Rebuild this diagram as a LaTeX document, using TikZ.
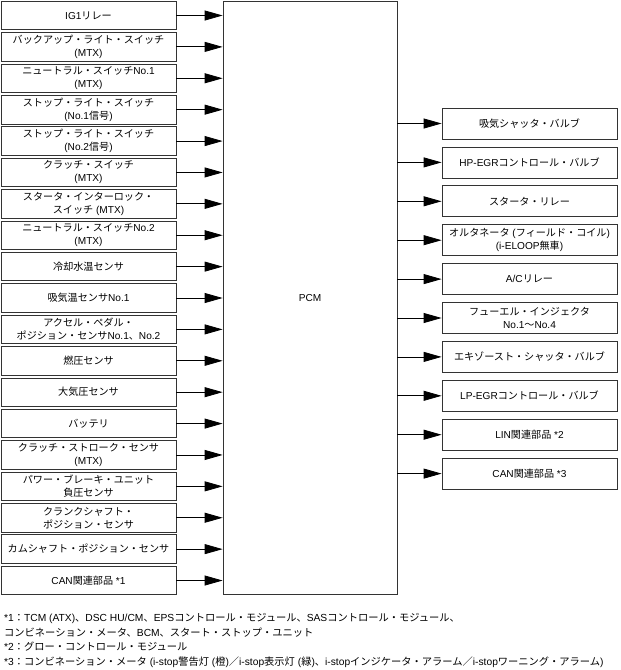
\documentclass[tikz,border=0pt]{standalone}
\usepackage{fontspec}
\setmainfont{Liberation Sans}
\newfontfamily\jpfont{Noto Sans CJK JP}
\usetikzlibrary{arrows.meta}
% 和文は自動で和文フォントへ切替
\XeTeXinterchartokenstate=1
\newXeTeXintercharclass\jpcls
\newcount\jpc
\def\setjprange#1#2{\jpc=#1 \loop\XeTeXcharclass\jpc=\jpcls \ifnum\jpc<#2 \advance\jpc by 1 \repeat}
\setjprange{"3000}{"30FF}
\setjprange{"4E00}{"9FFF}
\setjprange{"FF00}{"FFEF}
\XeTeXinterchartoks 0 \jpcls = {\begingroup\jpfont}
\XeTeXinterchartoks 4095 \jpcls = {\begingroup\jpfont}
\XeTeXinterchartoks \jpcls 0 = {\endgroup}
\XeTeXinterchartoks \jpcls 4095 = {\endgroup}

\begin{document}
\begin{tikzpicture}[x=1pt, y=-1pt, >={Triangle[length=18pt,width=10pt]},
  box/.style={draw=black!80, line width=0.8pt, minimum width=175pt, inner xsep=1pt, inner ysep=0pt,
    align=center, font=\fontsize{10.1}{13}\selectfont},
  conn/.style={->, line width=0.8pt}]
\useasboundingbox (0,0) rectangle (621,670);
% 入力側
\foreach \t [count=\i] in {{IG1リレー},
  {バックアップ・ライト・スイッチ\\(MTX)},
  {ニュートラル・スイッチNo.1\\(MTX)},
  {ストップ・ライト・スイッチ\\(No.1信号)},
  {ストップ・ライト・スイッチ\\(No.2信号)},
  {クラッチ・スイッチ\\(MTX)},
  {スタータ・インターロック・\\スイッチ (MTX)},
  {ニュートラル・スイッチNo.2\\(MTX)},
  {冷却水温センサ},
  {吸気温センサNo.1},
  {アクセル・ペダル・\\ポジション・センサNo.1、No.2},
  {燃圧センサ},
  {大気圧センサ},
  {バッテリ},
  {クラッチ・ストローク・センサ\\(MTX)},
  {パワー・ブレーキ・ユニット\\負圧センサ},
  {クランクシャフト・\\ポジション・センサ},
  {カムシャフト・ポジション・センサ},
  {CAN関連部品 *1}}
  \node[box, minimum height=28.5pt] (L\i) at (88.5, {15.5+31.39*(\i-1)}) {\t};
% PCM
\node[draw=black!80, line width=0.8pt, minimum width=174pt, minimum height=592.5pt,
  font=\fontsize{10.1}{13}\selectfont] (pcm) at (310, 297.75) {PCM};
% 出力側
\foreach \t [count=\i] in {{吸気シャッタ・バルブ},
  {HP-EGRコントロール・バルブ},
  {スタータ・リレー},
  {オルタネータ (フィールド・コイル)\\(i-ELOOP無車)},
  {A/Cリレー},
  {フューエル・インジェクタ\\No.1〜No.4},
  {エキゾースト・シャッタ・バルブ},
  {LP-EGRコントロール・バルブ},
  {LIN関連部品 *2},
  {CAN関連部品 *3}}
  \node[box, minimum height=31pt] (R\i) at (529.5, {123.5+38.9*(\i-1)}) {\t};
\foreach \i in {1,...,19} \draw[conn] (L\i.east) -- (L\i.east -| pcm.west);
\foreach \i in {1,...,10} \draw[conn] (R\i.west -| pcm.east) -- (R\i.west);
% 注記
\node[anchor=north west, align=left, inner sep=0pt, font=\fontsize{10.25}{14.7}\selectfont] (notes) at (4,613)
  {*1：TCM (ATX)、DSC HU/CM、EPSコントロール・モジュール、SASコントロール・モジュール、\\
   コンビネーション・メータ、BCM、スタート・ストップ・ユニット\\
   *2：グロー・コントロール・モジュール\\
   *3：コンビネーション・メータ (i-stop警告灯 (橙)／i-stop表示灯 (緑)、i-stopインジケータ・アラーム／i-stopワーニング・アラーム)};
\end{tikzpicture}
\end{document}
